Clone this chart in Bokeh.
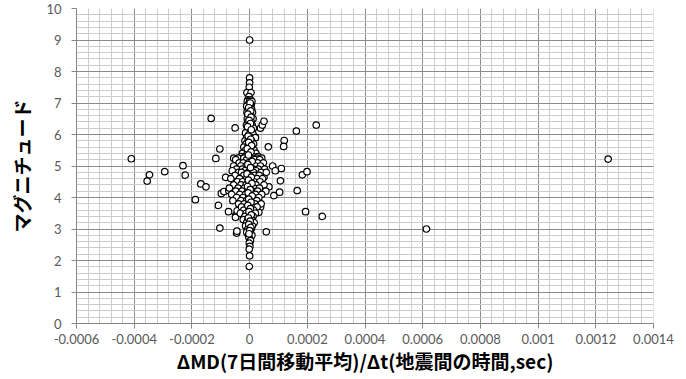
from bokeh.plotting import figure
from bokeh.models import Range1d, FixedTicker, CustomJSTickFormatter, ColumnDataSource
from bokeh.embed import file_html
from bokeh.resources import INLINE

# x: ΔMD/Δt, y: magnitude  (outlying points)
dmd_out = [-0.000410, -0.000355, -0.000347, -0.000294, -0.000231, -0.000223, -0.000169,
           -0.000151, -0.000133, -0.000117, -0.000103, -0.000050, -0.000188, -0.000108,
           -0.000103, -0.000073, -0.000045, -0.000044, -0.000048, -0.000083, -0.000098,
           -0.000089, -0.000072, -0.000043, -0.000049,
           0.001243, 0.000613, 0.000231, 0.000162, 0.000120, 0.000118, 0.000110, 0.000107,
           0.000104, 0.000183, 0.000199, 0.000165, 0.000194, 0.000252, 0.000038, 0.000044,
           0.000050, 0.000065, 0.000080, 0.000089, 0.000084, 0.000067, 0.000050, 0.000038,
           0.000032, 0.000058, 0.000020]
mag_out = [5.23, 4.52, 4.72, 4.82, 5.01, 4.71, 4.43,
           4.34, 6.51, 5.24, 5.54, 6.21, 3.93, 3.75,
           3.03, 3.55, 2.87, 2.93, 3.43, 4.64, 4.13,
           4.19, 4.22, 3.58, 3.37,
           5.22, 3.00, 6.30, 6.11, 5.81, 5.62, 4.92, 4.53,
           4.17, 4.72, 4.82, 4.22, 3.55, 3.40, 6.20, 6.30,
           6.42, 5.61, 5.00, 4.85, 4.06, 4.34, 4.64, 3.69,
           3.53, 2.91, 5.91]

# dense cluster near zero
dmd_core = [0, 0, 0, -1e-6, -9e-6, 5e-6, -2e-6, -6e-6, 3e-6, -8e-6, 0, 8e-6,
            -4e-6, 6e-6, -10e-6, 2e-6, -5e-6, 7e-6, -9e-6, 0, 10e-6, -3e-6, 5e-6,
            -8e-6, 2e-6, 12e-6, -6e-6, 6e-6, -11e-6, 0, 9e-6, -4e-6, 13e-6,
            -9e-6, 3e-6, -14e-6, 8e-6, -2e-6, 12e-6, -10e-6, 3e-6, 20e-6,
            -16e-6, -5e-6, 7e-6, -12e-6, 0, 14e-6, -20e-6, -6e-6, 8e-6,
            -14e-6, 2e-6, 16e-6, -25e-6, -8e-6, 6e-6, 22e-6,
            -30e-6, -15e-6, 0, 12e-6, 30e-6,
            -40e-6, -20e-6, 5e-6, 25e-6, 42e-6, -55e-6,
            -48e-6, -10e-6, 18e-6, 35e-6,
            -36e-6, -22e-6, -4e-6, 10e-6, 28e-6, 48e-6,
            -55e-6, -30e-6, -12e-6, 4e-6, 20e-6, 38e-6,
            -45e-6, -25e-6, -8e-6, 12e-6, 30e-6, 52e-6,
            -60e-6, -16e-6, 2e-6, 22e-6,
            -38e-6, -28e-6, -4e-6, 14e-6, 40e-6, 58e-6,
            -50e-6, -20e-6, 0, 18e-6, 33e-6,
            -65e-6, -35e-6, -10e-6, 8e-6, 26e-6, 45e-6,
            -42e-6, -24e-6, -5e-6, 15e-6, 36e-6,
            -55e-6, -30e-6, -12e-6, 4e-6, 22e-6, 50e-6,
            -70e-6, -40e-6, -18e-6, 0, 16e-6, 34e-6,
            -48e-6, -26e-6, -6e-6, 10e-6, 28e-6, 56e-6,
            -62e-6, -34e-6, -14e-6, 5e-6, 20e-6, 42e-6,
            -45e-6, -22e-6, -3e-6, 14e-6, 32e-6,
            -58e-6, -30e-6, -10e-6, 8e-6, 25e-6,
            -38e-6, -18e-6, 0, 18e-6, 40e-6,
            -28e-6, -8e-6, 10e-6, 26e-6,
            -20e-6, -2e-6, 14e-6,
            -32e-6, -12e-6, 4e-6, 20e-6,
            -16e-6, 0, 12e-6,
            -22e-6, -6e-6, 8e-6,
            -10e-6, 4e-6, 16e-6,
            -14e-6, 0, 10e-6,
            -6e-6, 6e-6,
            -10e-6, 2e-6,
            -4e-6, 8e-6,
            -2e-6, 3e-6, -1e-6, 1e-6, -1e-6, 0, -1e-6]
mag_core = [9.0, 7.8, 7.64, 7.5, 7.33, 7.33, 7.2, 7.1, 7.1, 7.05, 7.05, 7.05,
            6.95, 6.95, 6.9, 6.9, 6.8, 6.8, 6.7, 6.7, 6.7, 6.6, 6.6,
            6.5, 6.5, 6.5, 6.4, 6.4, 6.3, 6.3, 6.3, 6.2, 6.2,
            6.1, 6.1, 6.05, 6.05, 6.0, 6.0, 5.9, 5.9, 5.9,
            5.8, 5.8, 5.8, 5.7, 5.7, 5.7, 5.6, 5.6, 5.6,
            5.5, 5.5, 5.5, 5.4, 5.4, 5.4, 5.4,
            5.3, 5.3, 5.3, 5.3, 5.3,
            5.25, 5.25, 5.25, 5.25, 5.25, 5.25,
            5.2, 5.2, 5.2, 5.2,
            5.1, 5.1, 5.1, 5.1, 5.1, 5.1,
            5.0, 5.0, 5.0, 5.0, 5.0, 5.0,
            4.9, 4.9, 4.9, 4.9, 4.9, 4.9,
            4.85, 4.85, 4.85, 4.85,
            4.8, 4.8, 4.8, 4.8, 4.8, 4.8,
            4.7, 4.7, 4.7, 4.7, 4.7,
            4.6, 4.6, 4.6, 4.6, 4.6, 4.6,
            4.5, 4.5, 4.5, 4.5, 4.5,
            4.4, 4.4, 4.4, 4.4, 4.4, 4.4,
            4.3, 4.3, 4.3, 4.3, 4.3, 4.3,
            4.2, 4.2, 4.2, 4.2, 4.2, 4.2,
            4.1, 4.1, 4.1, 4.1, 4.1, 4.1,
            4.0, 4.0, 4.0, 4.0, 4.0,
            3.9, 3.9, 3.9, 3.9, 3.9,
            3.8, 3.8, 3.8, 3.8, 3.8,
            3.7, 3.7, 3.7, 3.7,
            3.6, 3.6, 3.6,
            3.5, 3.5, 3.5, 3.5,
            3.4, 3.4, 3.4,
            3.3, 3.3, 3.3,
            3.2, 3.2, 3.2,
            3.1, 3.1, 3.1,
            3.0, 3.0,
            2.9, 2.9,
            2.8, 2.8,
            2.73, 2.63, 2.55, 2.45, 2.36, 2.15, 1.81]

# central column (heavily overlapping points)
dmd_col = [2e-6, -3e-6, 4e-6, -6e-6, 5e-6, -2e-6, 3e-6, -7e-6, 6e-6,
           -5e-6, 4e-6, -3e-6, 7e-6, -8e-6, 5e-6, -4e-6,
           9e-6, -6e-6, 3e-6,
           -9e-6, 6e-6, -4e-6, 8e-6, -7e-6, 2e-6, -5e-6, 9e-6,
           -3e-6, 5e-6, -6e-6, 3e-6, -2e-6, 6e-6, -4e-6, 2e-6, -3e-6, 4e-6,
           0, -2e-6]
mag_col = [7.0, 6.85, 6.75, 6.65, 6.55, 6.45, 6.35, 6.25, 6.15,
           5.95, 5.85, 5.75, 5.65, 5.55, 5.45, 5.35,
           5.15, 5.05, 4.95,
           4.75, 4.65, 4.55, 4.45, 4.35, 4.25, 4.15, 4.05,
           3.95, 3.85, 3.75, 3.65, 3.55, 3.45, 3.35, 3.25, 3.15, 3.05,
           2.95, 2.85]

x_ticks = [-0.0006, -0.0004, -0.0002, 0, 0.0002, 0.0004, 0.0006, 0.0008, 0.001, 0.0012, 0.0014]
x_minor = [-0.0006 + i * 0.00004 for i in range(51)]
y_ticks = [0, 1, 2, 3, 4, 5, 6, 7, 8, 9, 10]
y_minor = [i * 0.2 for i in range(51)]

x_title = "ΔMD(7日間移動平均)/Δt(地震間の時間,sec)"
y_title = "マグニチュード"

p = figure(width=686, height=379, output_backend="svg", toolbar_location=None,
           x_range=Range1d(-0.0006, 0.0014), y_range=Range1d(0, 10),
           min_border_left=76, min_border_right=33, min_border_top=8, min_border_bottom=56)
p.outline_line_color = None
p.background_fill_color = "white"

p.xaxis.ticker = FixedTicker(ticks=x_ticks, minor_ticks=x_minor)
p.yaxis.ticker = FixedTicker(ticks=y_ticks, minor_ticks=y_minor)
p.xaxis.formatter = CustomJSTickFormatter(code="return String(tick);")

for g in (p.xgrid, p.ygrid):
    g.grid_line_color = "#8c8c8c"
    g.grid_line_width = 1
    g.minor_grid_line_color = "#cccccc"
    g.minor_grid_line_width = 1

for ax in (p.xaxis, p.yaxis):
    ax.axis_line_color = "#868686"
    ax.major_tick_line_color = "#868686"
    ax.major_tick_out = 5
    ax.major_tick_in = 0
    ax.minor_tick_line_color = None
    ax.major_label_text_font = "Lato"
    ax.major_label_text_font_size = "13px"
    ax.major_label_text_color = "#595959"
    ax.axis_label_text_font = "Noto Sans CJK JP"
    ax.axis_label_text_font_style = "bold"
    ax.axis_label_text_color = "#000000"

p.xaxis.major_label_standoff = 5
p.yaxis.major_label_standoff = 10
p.xaxis.axis_label = x_title
p.yaxis.axis_label = y_title
p.xaxis.axis_label_standoff = 0
p.yaxis.axis_label_standoff = 8
p.xaxis.axis_label_text_font_size = "19px"
p.yaxis.axis_label_text_font_size = "19px"

src = ColumnDataSource(dict(x=dmd_out + dmd_core + dmd_col, y=mag_out + mag_core + mag_col))
p.scatter("x", "y", source=src, marker="circle", size=6.5, line_color="black",
          line_width=1.2, fill_color="white")

open("out.html", "w").write(file_html(p, INLINE))
